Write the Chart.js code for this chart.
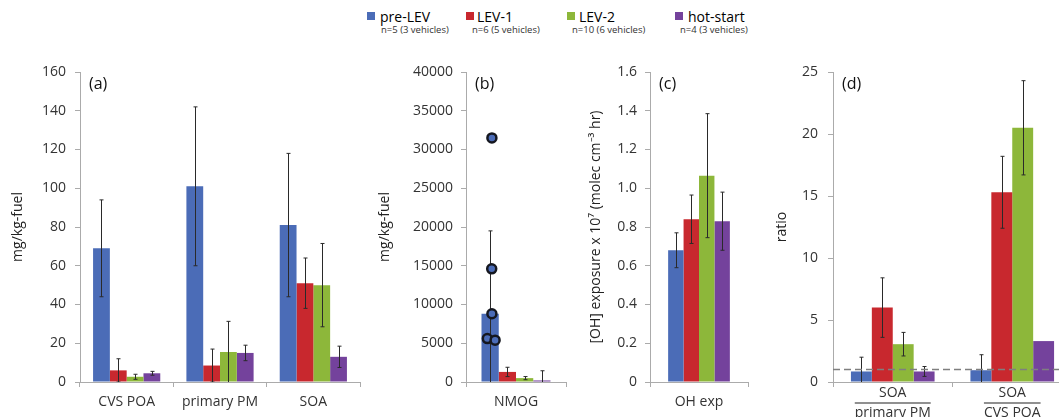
<!DOCTYPE html>
<html>
<head>
<meta charset="utf-8">
<script src="https://cdn.jsdelivr.net/npm/chart.js@4.4.0/dist/chart.umd.min.js"></script>
<style>
  html, body { margin: 0; padding: 0; background: #fff; }
  body { width: 1059px; height: 417px; overflow: hidden; position: relative; font-family: "Open Sans", sans-serif; }
  .panel { position: absolute; top: 0; height: 417px; }
  .lg { position: absolute; top: 9px; color: #000; }
  .lg .sq { position: absolute; top: 3px; width: 8px; height: 8px; }
  .lg .name { position: absolute; top: -2px; font-size: 14px; white-space: nowrap; }
  .lg .n { position: absolute; top: 14px; font-size: 9.5px; color: #333; white-space: nowrap; }
</style>
</head>
<body>
<div id="legend"></div>
<div class="panel" style="left:0;width:370px"><canvas id="chartA"></canvas></div>
<div class="panel" style="left:370px;width:200px"><canvas id="chartB"></canvas></div>
<div class="panel" style="left:370px;width:200px;pointer-events:none"><canvas id="chartBPts"></canvas></div>
<div class="panel" style="left:570px;width:190px"><canvas id="chartC"></canvas></div>
<div class="panel" style="left:760px;width:312px"><canvas id="chartD"></canvas></div>
<script>
// series
const seriesNames = ['pre-LEV', 'LEV-1', 'LEV-2', 'hot-start'];
const seriesCounts = ['n=5 (3 vehicles)', 'n=6 (5 vehicles)', 'n=10 (6 vehicles)', 'n=4 (3 vehicles)'];
const seriesColors = ['#4B6CB7', '#C8282E', '#8DB73A', '#74429C'];

// (a) emission factors, mg/kg-fuel
const labelsA = ['CVS POA', 'primary PM', 'SOA'];
const valuesA = [
  [69, 101, 81],
  [6, 8.5, 51],
  [2.7, 15.5, 50],
  [4.5, 15, 13]
];
const errorsA = [
  [25, 41, 37],
  [6, 8.5, 13],
  [1.3, 15.8, 21.5],
  [1, 4, 5.5]
];

// (b) NMOG, mg/kg-fuel
const labelsB = ['NMOG'];
const valuesB = [[8800], [1300], [500], [200]];
const errorsB = [[10700], [600], [200], [1250]];
// individual pre-LEV tests (x = position within the category, -0.5..0.5)
const pointsB = [31500, 14600, 8800, 5600, 5400];
const pointOffsetsB = [-0.233, -0.235, -0.233, -0.28, -0.2];

// (c) OH exposure x 10^7
const labelsC = ['OH exp'];
const valuesC = [[0.68], [0.84], [1.065], [0.83]];
const errorsC = [[0.09], [0.125], [0.32], [0.15]];

// (d) ratios
const labelsD = [['SOA', 'primary PM'], ['SOA', 'CVS POA']];
const valuesD = [
  [0.85, 0.95],
  [6.0, 15.3],
  [3.05, 20.5],
  [0.85, 3.3]
];
const errorsD = [
  [1.15, 1.25],
  [2.4, 2.9],
  [0.95, 3.8],
  [0.4, null]
];
const ratioLine = 1;

// legend (HTML)
const legendX = [367, 466, 567, 675];
const legendTextX = [380, 477, 579, 688];
const legendSubX = [381, 472, 572, 680];
const legend = document.getElementById('legend');
seriesNames.forEach((name, i) => {
  const item = document.createElement('div');
  item.className = 'lg';
  item.style.left = '0px';
  item.innerHTML =
    '<div class="sq" style="left:' + legendX[i] + 'px;background:' + seriesColors[i] + '"></div>' +
    '<div class="name" style="left:' + legendTextX[i] + 'px">' + name + '</div>' +
    '<div class="n" style="left:' + legendSubX[i] + 'px">' + seriesCounts[i] + '</div>';
  legend.appendChild(item);
});

Chart.defaults.font.family = '"Open Sans", sans-serif';
Chart.defaults.color = '#333';
Chart.defaults.animation = false;

const axisColor = '#ababab';

// error bars, drawn after each bar dataset
const errorBars = {
  id: 'errorBars',
  afterDatasetDraw(chart, args) {
    const ds = chart.data.datasets[args.index];
    if (!ds.errors) return;
    const y = chart.scales.y;
    const area = chart.chartArea;
    const ctx = chart.ctx;
    ctx.save();
    ctx.beginPath();
    ctx.rect(area.left, area.top - 1, area.right - area.left, area.bottom - area.top + 1);
    ctx.clip();
    ctx.strokeStyle = '#2a2a2a';
    ctx.lineWidth = 1;
    args.meta.data.forEach((bar, j) => {
      const e = ds.errors[j];
      if (e == null) return;
      const v = ds.data[j];
      const x = Math.round(bar.x) + 0.5;
      const top = y.getPixelForValue(v + e);
      const bot = y.getPixelForValue(v - e);
      ctx.beginPath();
      ctx.moveTo(x, top); ctx.lineTo(x, bot);
      ctx.moveTo(x - 2, top); ctx.lineTo(x + 2, top);
      ctx.moveTo(x - 2, bot); ctx.lineTo(x + 2, bot);
      ctx.stroke();
    });
    ctx.restore();
  }
};

// panel letter + dashed reference line + overline in ratio labels
const extras = {
  id: 'extras',
  afterDraw(chart, args, opts) {
    const ctx = chart.ctx;
    const area = chart.chartArea;
    ctx.save();
    if (opts.letter) {
      ctx.fillStyle = '#111';
      ctx.font = '16px "Open Sans", sans-serif';
      ctx.textBaseline = 'middle';
      ctx.fillText(opts.letter, area.left + 9, area.top + 12);
    }
    if (opts.refLine != null) {
      const yy = chart.scales.y.getPixelForValue(opts.refLine);
      ctx.strokeStyle = '#7f7f7f';
      ctx.lineWidth = 1.5;
      ctx.setLineDash([7, 4]);
      ctx.beginPath();
      ctx.moveTo(area.left, yy); ctx.lineTo(area.right, yy);
      ctx.stroke();
      ctx.setLineDash([]);
    }
    if (opts.fraction) {
      const xs = chart.scales.x;
      ctx.strokeStyle = '#222';
      ctx.lineWidth = 1.2;
      ctx.font = '14px "Open Sans", sans-serif';
      xs.ticks.forEach((t, i) => {
        const lbl = chart.data.labels[i];
        const w = ctx.measureText(lbl[1]).width;
        const cx = xs.getPixelForTick(i);
        const yy = xs.top + 21;
        ctx.beginPath();
        ctx.moveTo(cx - w / 2, yy); ctx.lineTo(cx + w / 2, yy);
        ctx.stroke();
      });
    }
    ctx.restore();
  }
};

function barSets(values, errors) {
  return seriesNames.map((name, i) => ({
    label: name,
    data: values[i],
    errors: errors[i],
    backgroundColor: seriesColors[i],
    borderWidth: 0,
    barPercentage: 1.0
  }));
}

function makeChart(id, cfg) {
  return new Chart(document.getElementById(id), {
    type: 'bar',
    data: { labels: cfg.labels, datasets: cfg.datasets },
    plugins: [errorBars, extras],
    options: {
      responsive: true,
      maintainAspectRatio: false,
      layout: { padding: { top: 72, right: cfg.padRight, left: 0, bottom: 0 } },
      datasets: { bar: { categoryPercentage: cfg.catPct } },
      plugins: {
        legend: { display: false },
        tooltip: { enabled: false },
        extras: { letter: cfg.letter, refLine: cfg.refLine, fraction: cfg.fraction }
      },
      scales: {
        x: {
          offset: true,
          grid: { display: true, offset: true, drawOnChartArea: false, drawTicks: true, tickLength: 5, color: axisColor },
          border: { color: axisColor },
          ticks: { font: { size: 14, lineHeight: cfg.xLineHeight || 1.2 }, color: '#333', padding: cfg.xPad, maxRotation: 0, autoSkip: false },
          afterFit(s) { s.height = 35; }
        },
        y: {
          min: 0,
          max: cfg.yMax,
          grid: { display: true, drawOnChartArea: false, drawTicks: true, tickLength: 5, color: axisColor },
          border: { color: axisColor },
          ticks: {
            stepSize: cfg.yStep,
            font: { size: 14 },
            color: '#333',
            padding: cfg.yPad,
            callback: cfg.yFormat || (v => v)
          },
          title: {
            display: true,
            text: cfg.yTitle,
            font: { size: 14 },
            color: '#222',
            padding: { top: cfg.titlePad, bottom: 0 }
          },
          afterFit(s) { s.width = cfg.yWidth; }
        }
      }
    }
  });
}

makeChart('chartA', {
  labels: labelsA,
  datasets: barSets(valuesA, errorsA),
  letter: '(a)', catPct: 0.72, padRight: 10, yWidth: 80, titlePad: 10,
  yMax: 160, yStep: 20, yPad: 9, xPad: 7, yTitle: 'mg/kg-fuel'
});

makeChart('chartB', {
  labels: labelsB,
  datasets: barSets(valuesB, errorsB),
  letter: '(b)', catPct: 0.69, padRight: 4, yWidth: 96, titlePad: 7,
  yMax: 40000, yStep: 5000, yPad: 8, xPad: 7, yTitle: 'mg/kg-fuel'
});

// pre-LEV individual tests, overlaid on panel (b) with the same plot area
const hidden = { display: false };
new Chart(document.getElementById('chartBPts'), {
  type: 'scatter',
  data: {
    datasets: [{
      label: 'pre-LEV tests',
      data: pointsB.map((v, i) => ({ x: pointOffsetsB[i], y: v })),
      backgroundColor: seriesColors[0],
      borderColor: '#15171f',
      borderWidth: 2.5,
      pointRadius: 4.5
    }]
  },
  options: {
    responsive: true,
    maintainAspectRatio: false,
    layout: { padding: { top: 72, right: 4, left: 0, bottom: 0 } },
    plugins: { legend: { display: false }, tooltip: { enabled: false } },
    scales: {
      x: {
        min: -0.5, max: 0.5,
        grid: hidden, border: hidden, ticks: hidden,
        afterFit(s) { s.height = 35; }
      },
      y: {
        min: 0, max: 40000,
        grid: hidden, border: hidden, ticks: hidden,
        afterFit(s) { s.width = 96; }
      }
    }
  }
});

makeChart('chartC', {
  labels: labelsC,
  datasets: barSets(valuesC, errorsC),
  letter: '(c)', catPct: 0.63, padRight: 12, yWidth: 80, titlePad: 18,
  yMax: 1.6, yStep: 0.2, yPad: 8, xPad: 7,
  yTitle: '[OH] exposure x 10\u2077 (molec cm\u207B\u00B3 hr)',
  yFormat: v => (v === 0 ? '0' : v.toFixed(1))
});

makeChart('chartD', {
  labels: labelsD,
  datasets: barSets(valuesD, errorsD),
  letter: '(d)', catPct: 0.70, padRight: 0, yWidth: 73, titlePad: 14,
  yMax: 25, yStep: 5, yPad: 10, xPad: -4, xLineHeight: 1.43, yTitle: 'ratio',
  refLine: ratioLine, fraction: true
});
</script>
</body>
</html>
